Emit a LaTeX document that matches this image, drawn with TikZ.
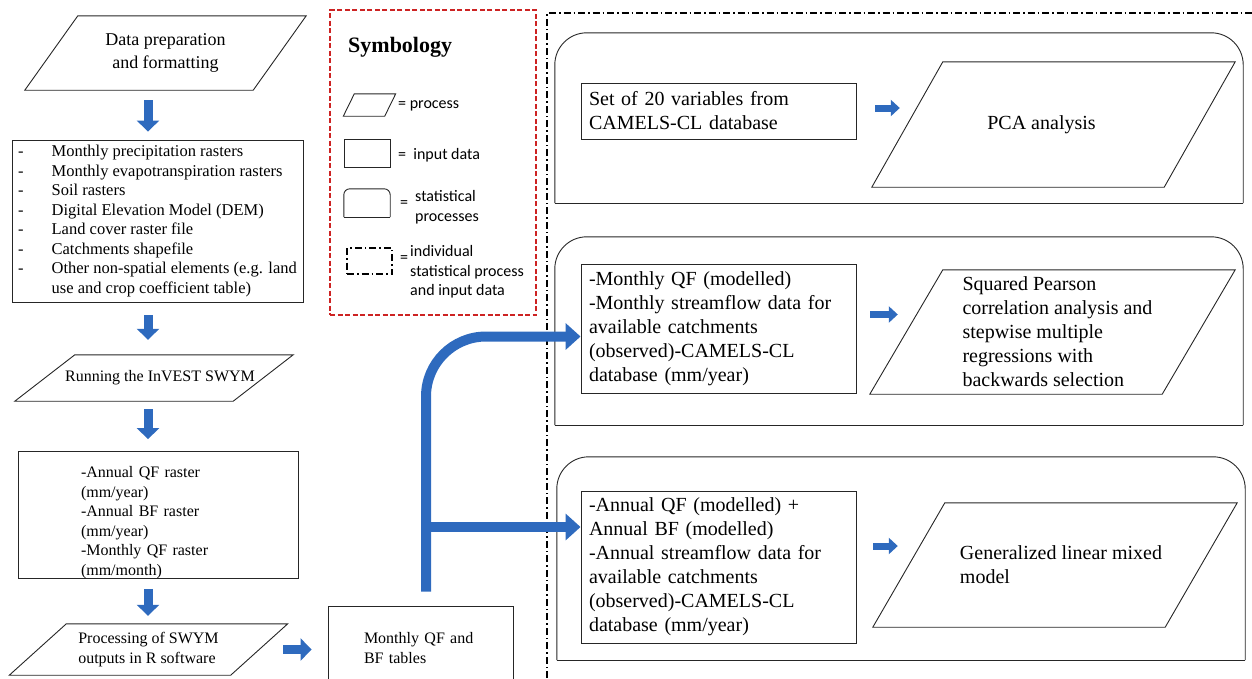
\documentclass[tikz,border=0pt]{standalone}
\usepackage{fontspec}
\setmainfont{Liberation Serif}
\newfontfamily\symfont{Carlito}
\usetikzlibrary{arrows.meta, positioning, calc}

\definecolor{flowblue}{RGB}{46,106,190}
\definecolor{symred}{RGB}{205,35,35}

% slanted outline round a named node
\newcommand{\procshape}[2]{%
  \draw[shapeline] ([xshift=-#2]#1.south west) -- ([xshift=-#2]#1.south east)
    -- ([xshift=#2]#1.north east) -- ([xshift=#2]#1.north west) -- cycle;}
% outline with rounded top corners only
\newcommand{\statshape}[2]{%
  \draw[shapeline, rounded corners=#2] (#1.south west) |- (#1.north east) -- (#1.south east);
  \draw[shapeline] (#1.south west) -- (#1.south east);}

\begin{document}
\begin{tikzpicture}[x=1pt, y=-1pt,
  shapeline/.style={draw=black!85, line width=0.9pt},
  databox/.style={shapeline, rectangle, inner xsep=8pt, inner ysep=3pt},
  proc/.style={rectangle, inner sep=0pt, align=center},
  blockarrow/.style={draw=flowblue, line width=9pt, -{Triangle[width=22pt,length=11pt]}},
  sidearrow/.style={draw=flowblue, line width=7pt, -{Triangle[width=16pt,length=9pt]}},
  pipe/.style={draw=flowblue, line width=10pt, -{Triangle[width=26pt,length=15pt]}},
  groupline/.style={draw=black, line width=1.6pt, dash pattern=on 7pt off 3pt on 1.5pt off 3pt},
  legendbox/.style={draw=symred, line width=1.4pt, dash pattern=on 5pt off 2.5pt},
  symtxt/.style={font={\symfont\fontsize{16}{19.5}\selectfont}, align=left, inner sep=0pt},
  bodytxt/.style={font=\fontsize{20}{24}\selectfont},
]
\clip (0,0) rectangle (1252,678);
\coordinate (colx) at (148,0);

% left column: model chain
\node[proc, minimum width=228pt, minimum height=74pt, font=\fontsize{18}{23}\selectfont] (prep) at (165.5,53) {Data preparation\\and formatting};
\procshape{prep}{26.5pt}

\node[databox, inner xsep=6pt, minimum width=291pt, minimum height=162pt, font=\fontsize{16.5}{19.5}\selectfont] (inputs) at (157.5,221) {%
  \begin{tabular}{@{}l@{\hspace{28pt}}l@{}}
  - & Monthly precipitation rasters\\
  - & Monthly evapotranspiration rasters\\
  - & Soil rasters\\
  - & Digital Elevation Model (DEM)\\
  - & Land cover raster file\\
  - & Catchments shapefile\\
  - & Other non-spatial elements (e.g. land\\
    & use and crop coefficient table)
  \end{tabular}};

\node[proc, minimum width=218pt, minimum height=46pt, font=\fontsize{16}{19}\selectfont] (swym) at (154,378) {\hspace*{12pt}Running the InVEST SWYM};
\procshape{swym}{30pt}

\node[databox, inner ysep=0pt, minimum width=280pt, minimum height=126pt, text width=154pt, align=left, font=\fontsize{16}{19.5}\selectfont] (qfout) at (158,515) {\rule{0pt}{26pt}-Annual QF raster\\(mm/year)\\-Annual BF raster\\(mm/year)\\-Monthly QF raster\\(mm/month)};

\node[proc, minimum width=221pt, minimum height=51pt, align=left, font=\fontsize{16}{20}\selectfont] (rproc) at (148.5,649.5) {Processing of SWYM\\outputs in R software};
\procshape{rproc}{28.5pt}

\node[databox, minimum width=185pt, minimum height=84pt, text width=113pt, align=left, font=\fontsize{16}{20}\selectfont] (tables) at (420.5,648) {Monthly QF and\\BF tables};

\draw[blockarrow, shorten <=10pt, shorten >=8pt] (prep.south -| colx) -- (inputs.north -| colx);
\draw[blockarrow, shorten <=13pt, shorten >=15pt] (inputs.south -| colx) -- (swym.north -| colx);
\draw[blockarrow, shorten <=8pt, shorten >=12pt] (swym.south -| colx) -- (qfout.north -| colx);
\draw[blockarrow, shorten <=10pt, shorten >=8pt] (qfout.south -| colx) -- (rproc.north -| colx);
\draw[blockarrow, shorten <=24pt, shorten >=16pt] (rproc.east) -- (tables.west |- rproc.east);

% symbology
\node[legendbox, rectangle, minimum width=206pt, minimum height=305pt] (legend) at (433,162.5) {};
\node[anchor=west, inner sep=0pt, font=\bfseries\fontsize{22}{26}\selectfont] (legendtitle) at (348,47) {Symbology};

\node[proc, minimum width=41pt, minimum height=22pt] (symproc) at (369.5,105) {};
\procshape{symproc}{5.5pt}
\node[symtxt, anchor=west] (symproctxt) at (398,106) {= process};

\node[shapeline, rectangle, inner sep=0pt, minimum width=46pt, minimum height=28pt] (symdata) at (367,153) {};
\node[symtxt, anchor=west] (symdatatxt) at (398,155) {=\ \ input data};

\node[rectangle, inner sep=0pt, minimum width=46pt, minimum height=28pt] (symstat) at (367,203) {};
\statshape{symstat}{6pt}
\node[symtxt, anchor=west] (symstateq) at (400,204) {=};
\node[symtxt, anchor=west] (symstattxt) at (415,207) {statistical\\processes};

\node[groupline, rectangle, inner sep=0pt, minimum width=45pt, minimum height=26pt] (symgroup) at (369.5,261) {};
\node[symtxt, anchor=west] (symgroupeq) at (400,259) {=};
\node[symtxt, anchor=west] (symgrouptxt) at (410,272) {individual\\statistical process\\and input data};

% right side: one group per statistical process
\draw[groupline] (547,678) -- (547,13) -- (1252,13);

\node[rectangle, minimum width=688pt, minimum height=170pt] (statpca) at (899,118) {};
\statshape{statpca}{32pt}
\node[databox, bodytxt, minimum width=275pt, minimum height=56pt, text width=259pt, align=left] (varsin) at (718.5,111) {Set of 20 variables from\\CAMELS-CL database};
\node[proc, bodytxt, minimum width=292pt, minimum height=125pt] (pca) at (1053.5,124.5) {PCA analysis\hspace*{24pt}};
\procshape{pca}{35.5pt}
\draw[sidearrow, shorten <=19pt, shorten >=7.5pt] ([yshift=3pt]varsin.east) -- ([yshift=3pt]varsin.east -| pca.west);

\node[rectangle, minimum width=688pt, minimum height=188pt] (statcorr) at (899,331) {};
\statshape{statcorr}{32pt}
\node[databox, bodytxt, minimum width=275pt, minimum height=129pt, text width=259pt, align=left] (flowin) at (718.5,328.5) {-Monthly QF (modelled)\\-Monthly streamflow data for\\available catchments\\(observed)-CAMELS-CL\\database (mm/year)};
\node[proc, bodytxt, minimum width=292pt, minimum height=124pt, align=left] (corr) at (1052.5,332) {\hspace*{10pt}Squared Pearson\\\hspace*{10pt}correlation analysis and\\\hspace*{10pt}stepwise multiple\\\hspace*{10pt}regressions with\\\hspace*{10pt}backwards selection};
\procshape{corr}{36.5pt}
\draw[sidearrow, shorten <=14pt, shorten >=8.5pt] ([yshift=14pt]flowin.east) -- ([yshift=14pt]flowin.east -| corr.west);

\node[rectangle, minimum width=688pt, minimum height=203pt] (statglmm) at (901,558.5) {};
\statshape{statglmm}{32pt}
\node[databox, bodytxt, minimum width=275pt, minimum height=152pt, text width=259pt, align=left] (annin) at (718.5,567) {-Annual QF (modelled) +\\Annual BF (modelled)\\-Annual streamflow data for\\available catchments\\(observed)-CAMELS-CL\\database (mm/year)};
\node[proc, bodytxt, minimum width=292pt, minimum height=124pt, align=left] (glmm) at (1055,565) {\hspace*{12pt}Generalized linear mixed\\\hspace*{12pt}model};
\procshape{glmm}{36pt}
\draw[sidearrow, shorten <=17pt, shorten >=11pt] ([yshift=21pt]annin.east) -- ([yshift=21pt]annin.east -| glmm.west);

% tables feed both groups
\draw[pipe, rounded corners=60pt] ([xshift=5.5pt,yshift=14pt]tables.north) |- ([yshift=-8pt]flowin.west);
\coordinate (fork) at (426,527);
\draw[pipe] (fork) -- (fork -| annin.west);
\end{tikzpicture}
\end{document}
